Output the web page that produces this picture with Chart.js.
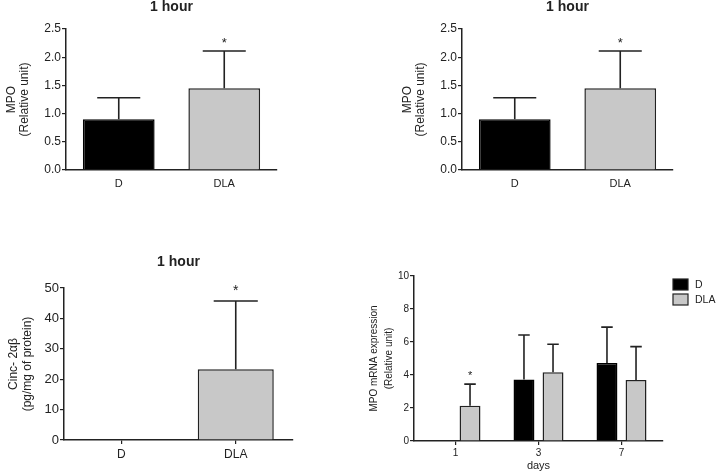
<!DOCTYPE html>
<html lang="en">
<head>
<meta charset="UTF-8">
<title>MPO and Cinc-2αβ</title>
<style>
    body { margin: 0; background: #fff; }
    #wrap { position: relative; width: 717px; height: 473px; overflow: hidden; }
    canvas { position: absolute; }
</style>
</head>
<body>
<div id="wrap">
    <canvas id="c1" width="300" height="225" style="left:0;top:0"></canvas>
    <canvas id="c2" width="300" height="225" style="left:396px;top:0"></canvas>
    <canvas id="c3" width="300" height="233" style="left:0;top:240px"></canvas>
    <canvas id="c4" width="377" height="223" style="left:340px;top:250px"></canvas>
</div>
<script src="https://cdn.jsdelivr.net/npm/chart.js"></script>
<script>
// data
const groups = ['D', 'DLA'];
const mpoMean = [0.90, 1.45];
const mpoErr = [0.38, 0.66];
const mpoSig = [false, true];

const cincMean = [0, 23.3];
const cincErr = [0, 22.4];
const cincSig = [false, true];

const days = ['1', '3', '7'];
const dMean = [null, 3.72, 4.73];
const dErr = [null, 2.70, 2.17];
const dlaMean = [2.14, 4.16, 3.70];
const dlaErr = [1.31, 1.70, 2.02];
const dlaSig = [true, false, false];

const FONT = '"Liberation Sans", Arial, sans-serif';
const INK = '#222';
const GREY = '#c8c8c8';
Chart.defaults.font.family = FONT;
Chart.defaults.color = INK;

// error bars, significance stars, panel title and legend
const extras = {
    id: 'extras',
    afterDatasetsDraw(chart, args, opts) {
        const ctx = chart.ctx;
        const y = chart.scales.y;
        ctx.save();
        ctx.strokeStyle = INK;
        ctx.fillStyle = INK;
        ctx.lineWidth = 1.6;
        chart.data.datasets.forEach((ds, i) => {
            chart.getDatasetMeta(i).data.forEach((bar, j) => {
                const v = ds.data[j], e = ds.errors[j];
                if (v == null || !e) return;
                const top = y.getPixelForValue(v + e);
                const half = bar.width * opts.cap / 2;
                ctx.beginPath();
                ctx.moveTo(bar.x, bar.y);
                ctx.lineTo(bar.x, top);
                ctx.moveTo(bar.x - half, top);
                ctx.lineTo(bar.x + half, top);
                ctx.stroke();
                if (ds.sig && ds.sig[j]) {
                    ctx.font = opts.starSize + 'px ' + FONT;
                    ctx.textAlign = 'center';
                    ctx.textBaseline = 'middle';
                    ctx.fillText('*', bar.x, top - opts.starGap);
                }
            });
        });
        if (opts.title) {
            const a = chart.chartArea;
            ctx.font = 'bold 14px ' + FONT;
            ctx.textAlign = 'center';
            ctx.textBaseline = 'middle';
            ctx.fillText(opts.title, (a.left + a.right) / 2, opts.titleY);
        }
        if (opts.legend) {
            ctx.font = '10.5px ' + FONT;
            ctx.textAlign = 'left';
            ctx.textBaseline = 'middle';
            chart.data.datasets.forEach((ds, i) => {
                const lx = opts.legend.x, ly = opts.legend.y + i * 15;
                ctx.fillStyle = ds.backgroundColor;
                ctx.fillRect(lx, ly, 15, 11);
                ctx.strokeStyle = INK;
                ctx.lineWidth = 1.2;
                ctx.strokeRect(lx, ly, 15, 11);
                ctx.fillStyle = INK;
                ctx.fillText(ds.label, lx + 22, ly + 6);
            });
        }
        ctx.restore();
    }
};

function yAxis(max, step, width, tickSize, label, labelSize, labelPad, lineHeight, decimals) {
    return {
        min: 0, max: max,
        border: { color: INK, width: 1.5 },
        grid: { drawOnChartArea: false, color: INK, lineWidth: 1.2, tickLength: 4 },
        ticks: {
            stepSize: step, padding: 1, color: INK,
            font: { size: tickSize },
            callback: v => v.toFixed(decimals)
        },
        title: {
            display: true, text: label, color: INK,
            font: { size: labelSize, lineHeight: lineHeight },
            padding: { top: labelPad, bottom: 0 }
        },
        afterFit: s => { s.width = width; }
    };
}

function xAxis(height, tickSize, tickMarks, pad, title) {
    return {
        border: { color: INK, width: 1.5 },
        grid: { drawOnChartArea: false, offset: false, drawTicks: tickMarks, color: INK, lineWidth: 1.2, tickLength: 4 },
        ticks: { padding: pad, color: INK, font: { size: tickSize } },
        title: title ? { display: true, text: title, color: INK, font: { size: 11 }, padding: { top: 2, bottom: 0 } } : { display: false },
        afterFit: s => { s.height = height; }
    };
}

function mpoChart(id) {
    return new Chart(document.getElementById(id), {
        type: 'bar',
        data: {
            labels: groups,
            datasets: [{
                data: mpoMean, errors: mpoErr, sig: mpoSig,
                backgroundColor: ['#000', GREY],
                borderColor: ['#000', INK],
                borderWidth: 1.5,
                categoryPercentage: 0.8, barPercentage: 0.85
            }]
        },
        options: {
            responsive: false, animation: false,
            layout: { padding: { top: 29, right: 23, bottom: 0, left: 0 } },
            plugins: {
                legend: { display: false }, tooltip: { enabled: false },
                extras: { cap: 0.6, starGap: 8, starSize: 13, title: '1 hour', titleY: 7 }
            },
            scales: {
                x: xAxis(55, 11, false, 7),
                y: yAxis(2.5, 0.5, 66, 12, ['MPO', '(Relative unit)'], 12, 5, 1.1, 1)
            }
        },
        plugins: [extras]
    });
}

mpoChart('c1');
mpoChart('c2');

new Chart(document.getElementById('c3'), {
    type: 'bar',
    data: {
        labels: groups,
        datasets: [{
            data: cincMean, errors: cincErr, sig: cincSig,
            backgroundColor: ['#000', GREY],
            borderColor: ['#000', INK],
            borderWidth: 1.5,
            categoryPercentage: 0.8, barPercentage: 0.83
        }]
    },
    options: {
        responsive: false, animation: false,
        layout: { padding: { top: 48, right: 7, bottom: 0, left: 0 } },
        plugins: {
            legend: { display: false }, tooltip: { enabled: false },
            extras: { cap: 0.58, starGap: 10, starSize: 14, title: '1 hour', titleY: 22 }
        },
        scales: {
            x: xAxis(33, 12, true, 3),
            y: yAxis(50, 10, 64, 13, ['Cinc- 2αβ', '(pg/mg of protein)'], 12, 6, 1.2, 0)
        }
    },
    plugins: [extras]
});

new Chart(document.getElementById('c4'), {
    type: 'bar',
    data: {
        labels: days,
        datasets: [{
            label: 'D',
            data: dMean, errors: dErr,
            backgroundColor: '#000', borderColor: '#000', borderWidth: 1.5,
            categoryPercentage: 0.7, barPercentage: 0.72
        }, {
            label: 'DLA',
            data: dlaMean, errors: dlaErr, sig: dlaSig,
            backgroundColor: GREY, borderColor: INK, borderWidth: 1.5,
            categoryPercentage: 0.7, barPercentage: 0.72
        }]
    },
    options: {
        responsive: false, animation: false,
        layout: { padding: { top: 26, right: 54, bottom: 0, left: 0 } },
        plugins: {
            legend: { display: false }, tooltip: { enabled: false },
            extras: { cap: 0.55, starGap: 8, starSize: 11, legend: { x: 333, y: 29 } }
        },
        scales: {
            x: xAxis(32, 10, true, 2, 'days'),
            y: yAxis(10, 2, 74, 10, ['MPO mRNA expression', '(Relative unit)'], 10, 27, 1.5, 0)
        }
    },
    plugins: [extras]
});
</script>
</body>
</html>
